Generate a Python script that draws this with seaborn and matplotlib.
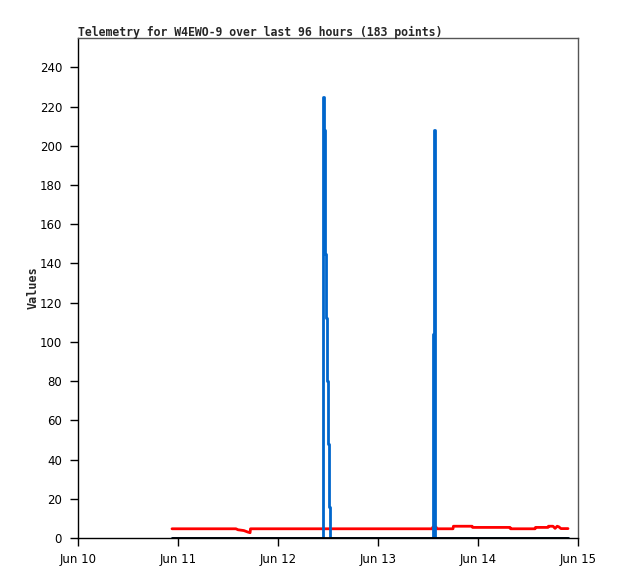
#!/usr/bin/env python3
"""
Telemetry chart for W4EWO-9 (last 96 hours)
"""

import matplotlib
matplotlib.use('Agg')
import matplotlib.pyplot as plt
import matplotlib.dates as mdates
import numpy as np
import pandas as pd
import seaborn as sns

# hours after Jun 10 00:00
blue_hours = [22.56, 58.56, 58.68, 58.92, 59.16, 59.35, 59.57, 59.81, 60.05, 60.29, 60.48,
              85.2, 85.27, 85.44, 85.58, 117.6]
blue_values = [0, 0, 225, 208, 176, 145, 112, 80, 48, 16, 0,
               0, 104, 208, 0, 0]

red_hours = [22.56, 37.9, 38.4, 39.8, 40.8, 41.3, 41.4, 84.96, 85.2, 85.9, 86.2, 90.0, 90.1,
             94.6, 94.7, 103.7, 103.8, 109.7, 109.8, 112.8, 112.9, 114.0, 114.5, 115.0,
             115.4, 115.9, 117.6]
red_values = [4.7, 4.7, 4.2, 3.8, 3.0, 2.7, 4.7, 4.7, 5.6, 5.6, 4.7, 4.7, 6.0,
              6.0, 5.4, 5.4, 4.7, 4.7, 5.4, 5.4, 6.0, 6.0, 4.9, 6.0,
              5.7, 4.8, 4.8]

black_hours = [22.56, 117.6]
black_values = [0, 0]

title = 'Telemetry for W4EWO-9 over last 96 hours (183 points)'
start = pd.Timestamp('2024-06-10 00:00')


def to_df(hours, values):
    return pd.DataFrame({'time': start + pd.to_timedelta(hours, unit='h'), 'value': values})


sns.set_style('white')
plt.rcParams['font.family'] = ['DejaVu Sans']

fig = plt.figure(figsize=(6.18, 5.79), dpi=100)
ax = fig.add_axes([78 / 618, 41 / 579, 500 / 618, 500 / 579])

sns.lineplot(data=to_df(red_hours, red_values), x='time', y='value', color='#ff0000',
             linewidth=2, ax=ax, estimator=None, sort=False)
sns.lineplot(data=to_df(blue_hours, blue_values), x='time', y='value', color='#0066cc',
             linewidth=2, ax=ax, estimator=None, sort=False, drawstyle='steps-post')
sns.lineplot(data=to_df(black_hours, black_values), x='time', y='value', color='#000000',
             linewidth=2, ax=ax, estimator=None, sort=False)

ax.set_xlim(start, start + pd.Timedelta(days=5))
ax.set_ylim(0, 255)
ax.set_yticks(np.arange(0, 241, 20))
ax.xaxis.set_major_locator(mdates.DayLocator())
ax.xaxis.set_major_formatter(mdates.DateFormatter('%b %d'))

ax.tick_params(axis='both', direction='out', length=5.5, width=1, labelsize=8.5,
               colors='black', bottom=True, left=True)
ax.tick_params(axis='x', pad=5)
ax.tick_params(axis='y', pad=6)

for side in ['top', 'right']:
    ax.spines[side].set_color('#555555')
for side in ['left', 'bottom']:
    ax.spines[side].set_color('black')
for s in ax.spines.values():
    s.set_linewidth(1)

ax.set_xlabel('')
ax.set_ylabel('Values', fontsize=8.5, fontweight='bold', family='DejaVu Sans Mono', labelpad=0)
ax.set_title(title, fontsize=8.3, fontweight='bold', family='DejaVu Sans Mono', loc='left', pad=1.5)

plt.savefig('out.png', dpi=100)
plt.close()
